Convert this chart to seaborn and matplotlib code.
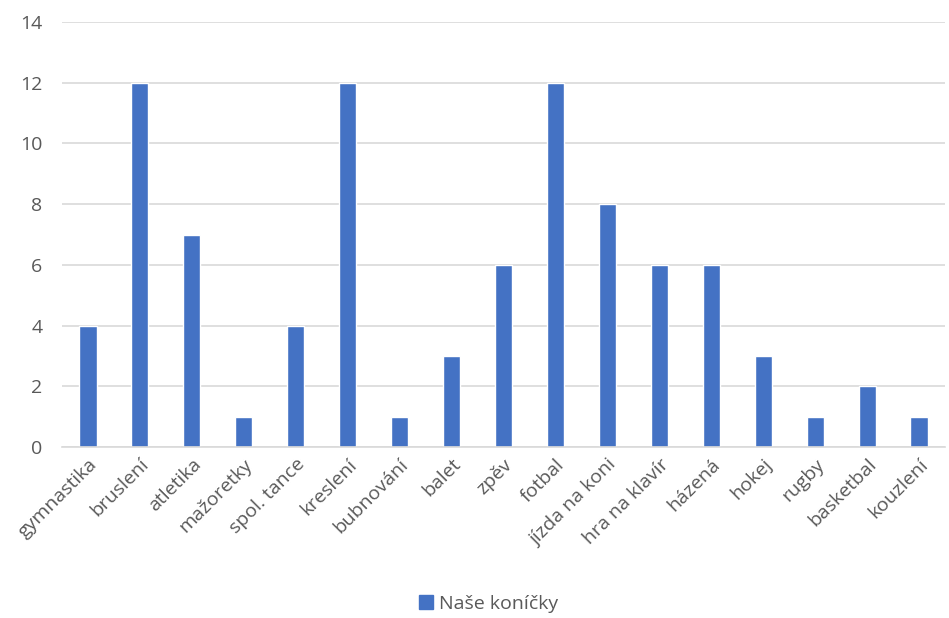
import matplotlib
matplotlib.use("Agg")
import matplotlib.pyplot as plt
from matplotlib.patches import Patch
import pandas as pd
import seaborn as sns

categories = ["gymnastika", "bruslení", "atletika", "mažoretky", "spol. tance",
              "kreslení", "bubnování", "balet", "zpěv", "fotbal", "jízda na koni",
              "hra na klavír", "házená", "hokej", "rugby", "basketbal", "kouzlení"]
values = [4, 12, 7, 1, 4, 12, 1, 3, 6, 12, 8, 6, 6, 3, 1, 2, 1]
series_name = "Naše koníčky"

df = pd.DataFrame({"koníček": categories, "počet": values})

sns.set_style("white")
plt.rcParams["font.family"] = ["Open Sans", "DejaVu Sans"]

fig = plt.figure(figsize=(9.49, 6.18), dpi=100)
ax = fig.add_axes([0.0653, 0.2767, 0.9305, 0.6877])

color = "#4472C4"
sns.barplot(data=df, x="koníček", y="počet", color=color, width=0.33,
            saturation=1, ax=ax)

ax.set_ylim(0, 14)
ax.set_yticks(range(0, 15, 2))
ax.yaxis.grid(True, color="#d9d9d9", linewidth=1.2)
ax.set_axisbelow(True)
for s in ["top", "right", "left"]:
    ax.spines[s].set_visible(False)
ax.spines["bottom"].set_color("#d9d9d9")
ax.spines["bottom"].set_linewidth(1.2)
ax.set_xlabel("")
ax.set_ylabel("")
ax.tick_params(axis="both", length=0, colors="#595959", labelsize=14)
ax.tick_params(axis="y", pad=14)
ax.tick_params(axis="x", pad=6)
plt.setp(ax.get_xticklabels(), rotation=45, ha="right", rotation_mode="anchor")
ax.set_xlim(-0.5, len(categories) - 0.5)

fig.legend(handles=[Patch(color=color, label=series_name)], loc="lower center",
           bbox_to_anchor=(0.515, -0.02), frameon=False, fontsize=14,
           handlelength=0.7, handleheight=0.7, handletextpad=0.3,
           labelcolor="#595959")

fig.savefig("out.png", dpi=100)
